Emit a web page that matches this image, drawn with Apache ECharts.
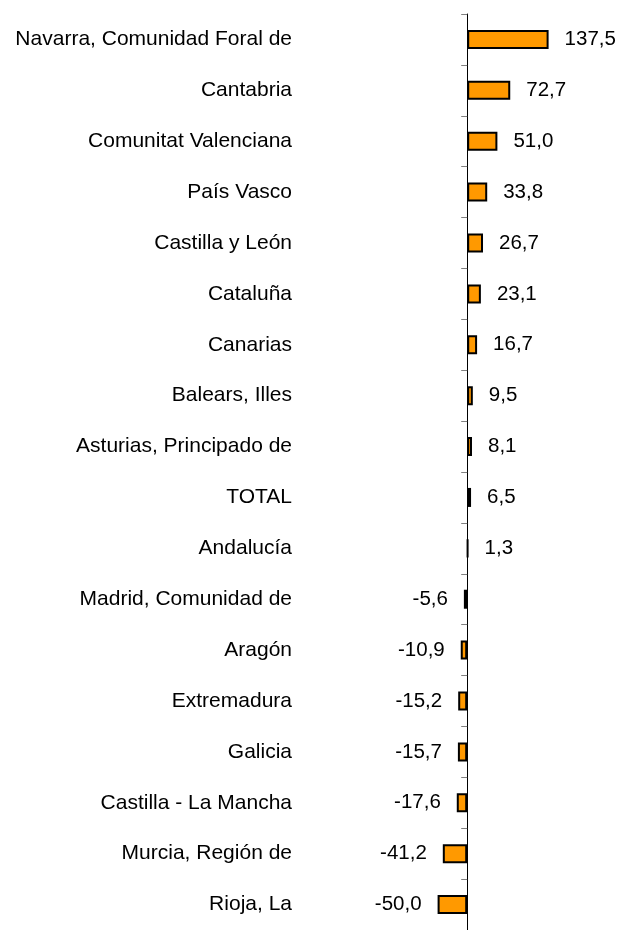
<!DOCTYPE html>
<html>
<head>
<meta charset="utf-8">
<script src="https://cdn.jsdelivr.net/npm/echarts@6/dist/echarts.min.js"></script>
<style>
  html, body { margin: 0; padding: 0; background: #fff; }
  #chart { width: 619px; height: 930px; }
</style>
</head>
<body>
<div id="chart"></div>
<script>
const regions = [
  'Navarra, Comunidad Foral de', 'Cantabria', 'Comunitat Valenciana', 'País Vasco',
  'Castilla y León', 'Cataluña', 'Canarias', 'Balears, Illes',
  'Asturias, Principado de', 'TOTAL', 'Andalucía', 'Madrid, Comunidad de',
  'Aragón', 'Extremadura', 'Galicia', 'Castilla - La Mancha',
  'Murcia, Región de', 'Rioja, La'
]
const values = [137.5, 72.7, 51.0, 33.8, 26.7, 23.1, 16.7, 9.5, 8.1, 6.5, 1.3,
  -5.6, -10.9, -15.2, -15.7, -17.6, -41.2, -50.0]

const fmt = (v) => v.toFixed(1).replace('.', ',')

const chart = echarts.init(document.getElementById('chart'))
chart.setOption({
  animation: false,
  textStyle: { fontFamily: 'Liberation Sans, Arial, sans-serif' },
  grid: { left: 408, right: 63, top: 14, bottom: -9 },
  xAxis: {
    type: 'value',
    min: -100,
    max: 150,
    show: false
  },
  yAxis: {
    type: 'category',
    inverse: true,
    data: regions,
    axisLine: { onZero: true, lineStyle: { color: '#000', width: 1 } },
    axisTick: { show: true, length: 6, lineStyle: { color: '#808080' } },
    axisLabel: { margin: 116, fontSize: 21, color: '#000' }
  },
  series: [{
    type: 'bar',
    barWidth: 19,
    data: values.map(v => ({
      value: v,
      label: { position: v >= 0 ? 'right' : 'left' }
    })),
    itemStyle: { color: '#ff9900', borderColor: '#000', borderWidth: 2 },
    label: {
      show: true,
      distance: 16,
      fontSize: 20.5,
      color: '#000',
      formatter: (p) => fmt(p.value)
    }
  }]
})
</script>
</body>
</html>
